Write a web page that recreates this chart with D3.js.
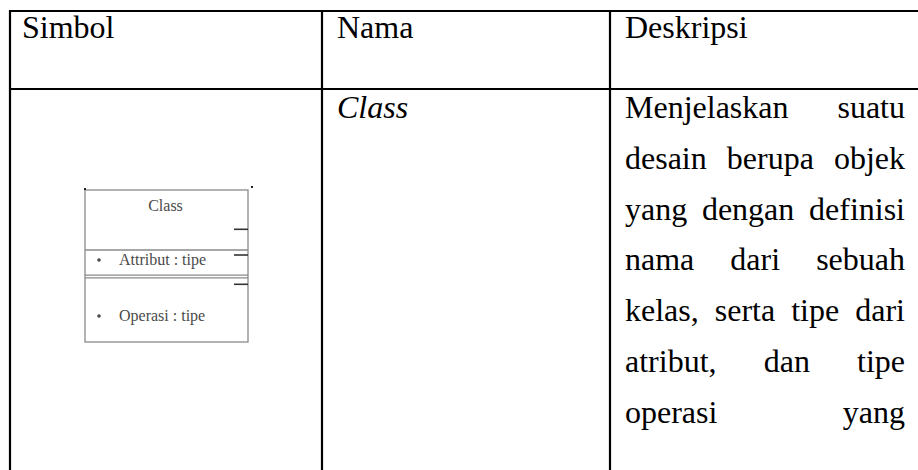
<!DOCTYPE html>
<html><head><meta charset="utf-8">
<script src="https://cdn.jsdelivr.net/npm/d3@7"></script>
<style>html,body{margin:0;padding:0;background:#fff;overflow:hidden}</style>
</head><body>
<svg id="c" width="918" height="470"></svg>
<script>
const headers = ["Simbol", "Nama", "Deskripsi"];
const namaValues = ["Class"];
const deskripsiLines = [
  "Menjelaskan suatu",
  "desain berupa objek",
  "yang dengan definisi",
  "nama dari sebuah",
  "kelas, serta tipe dari",
  "atribut, dan tipe",
  "operasi yang"
];
const symbolTitle = "Class";
const symbolMembers = ["Attribut : tipe", "Operasi : tipe"];

const W = 918, H = 470;
const svg = d3.select("#c");
const FONT = "'Liberation Serif','Times New Roman',Times,serif";
const FS = 32;

const colX = d3.scaleOrdinal().domain([0,1,2,3]).range([10, 322, 610, 960]);
const rowY = d3.scaleOrdinal().domain([0,1,2]).range([11, 89, 520]);
const lineY = d3.scaleLinear().domain([0,1]).range([118, 168.8]);

const grid = svg.append("g").attr("stroke","#000").attr("stroke-width",2.2);
[0,1].forEach(r => grid.append("line").attr("x1",9).attr("x2",W).attr("y1",rowY(r)).attr("y2",rowY(r)));
[0,1,2].forEach(c => grid.append("line").attr("x1",colX(c)).attr("x2",colX(c)).attr("y1",10).attr("y2",H));

function stext(g, str, x, y, opts={}) {
  return g.append("text")
    .attr("x", x).attr("y", y)
    .attr("font-family", FONT).attr("font-size", opts.fs||FS)
    .attr("font-style", opts.italic ? "italic" : null)
    .attr("fill", opts.fill || "#000")
    .attr("text-anchor", opts.anchor || null)
    .text(str);
}

const padL = [12, 15, 15];
headers.forEach((h,i) => stext(svg, h, colX(i)+padL[i], 38));

namaValues.forEach((n,i) => stext(svg, n, colX(1)+15, lineY(i), {italic:true}));

const jLeft = colX(2)+15, jRight = 905;
deskripsiLines.forEach((ln, i) => {
  const words = ln.split(" ");
  const g = svg.append("g");
  const nodes = words.map(w => stext(g, w, 0, lineY(i)));
  const widths = nodes.map(n => n.node().getComputedTextLength());
  const total = d3.sum(widths);
  const gap = words.length > 1 ? (jRight - jLeft - total)/(words.length-1) : 0;
  let x = jLeft;
  nodes.forEach((n,k) => { n.attr("x", x); x += widths[k] + gap; });
});

// Class symbol
const sym = svg.append("g");
const bx0 = 85, bx1 = 248, by0 = 190, by1 = 250, by2 = 276.5, by3 = 342;
const gray = "#8a8a8a", tcol = "#4a4a4a";
sym.append("rect").attr("x",bx0).attr("y",by0).attr("width",bx1-bx0).attr("height",by3-by0)
  .attr("fill","none").attr("stroke",gray).attr("stroke-width",1.3);
sym.append("line").attr("x1",bx0).attr("x2",bx1).attr("y1",by1).attr("y2",by1).attr("stroke",gray).attr("stroke-width",1.6);
sym.append("line").attr("x1",bx0).attr("x2",bx1).attr("y1",by2-1.3).attr("y2",by2-1.3).attr("stroke",gray).attr("stroke-width",1.2);
sym.append("line").attr("x1",bx0).attr("x2",bx1).attr("y1",by2+1.3).attr("y2",by2+1.3).attr("stroke",gray).attr("stroke-width",1.2);
[229.3, 255, 284.3].forEach(y => sym.append("line").attr("x1",234).attr("x2",bx1).attr("y1",y).attr("y2",y).attr("stroke","#333").attr("stroke-width",1.6));
sym.append("rect").attr("x",251).attr("y",186).attr("width",2).attr("height",2).attr("fill","#222");
sym.append("rect").attr("x",bx0-1).attr("y",188).attr("width",2).attr("height",2).attr("fill","#222");
stext(sym, symbolTitle, 165.5, 211, {fs:16, fill:tcol, anchor:"middle"});
const memY = [265, 321];
symbolMembers.forEach((m,i) => {
  sym.append("circle").attr("cx",99).attr("cy",memY[i]-5).attr("r",1.8).attr("fill",tcol);
  stext(sym, m, 119, memY[i], {fs:16, fill:tcol});
});
</script>
</body></html>
